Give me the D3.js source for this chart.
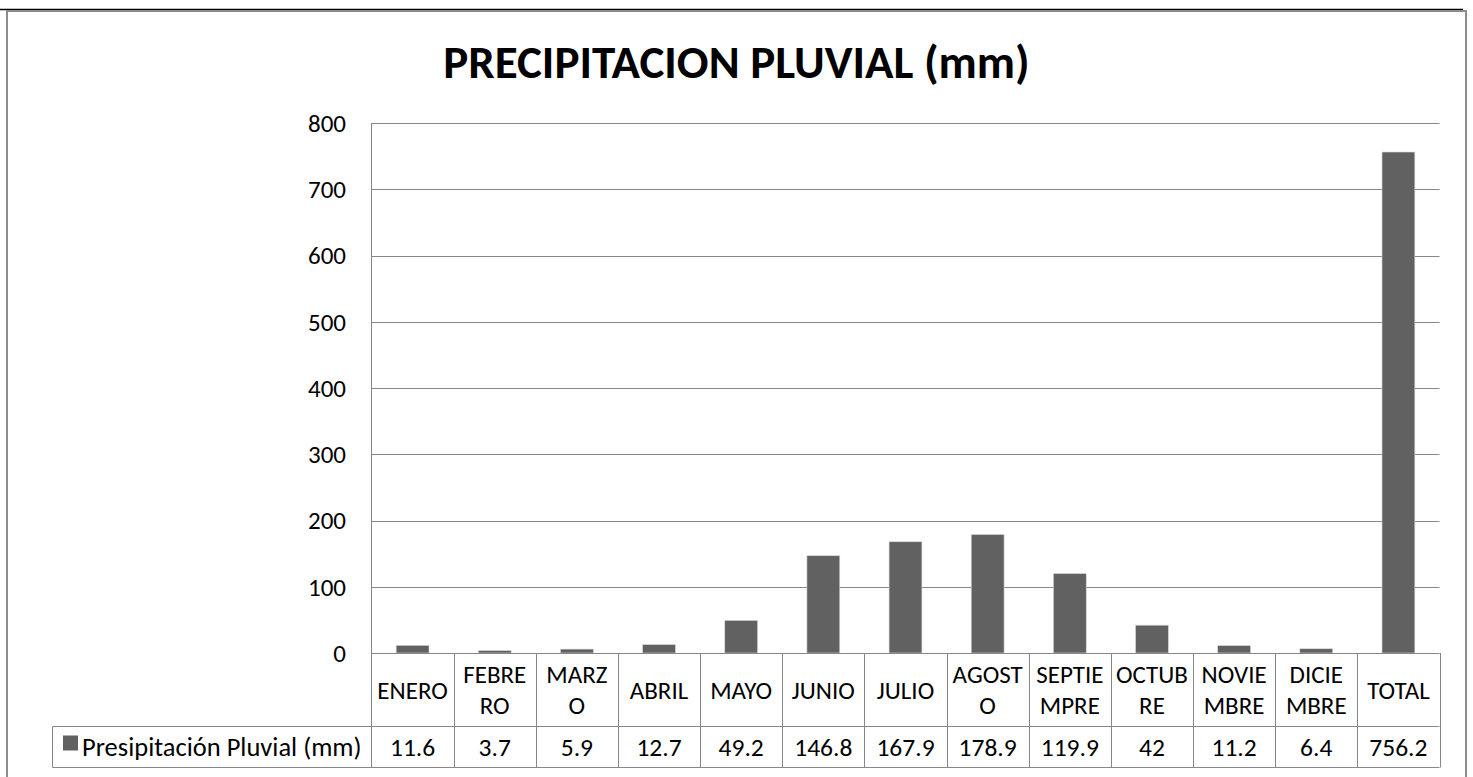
<!DOCTYPE html>
<html>
<head>
<meta charset="utf-8">
<script src="https://cdn.jsdelivr.net/npm/d3@7"></script>
<style>
  html, body { margin: 0; padding: 0; background: #fff; }
  svg { display: block; }
  text { font-family: Carlito, Calibri, Lato, sans-serif; fill: #000; }
</style>
</head>
<body>
<svg id="chart" width="1473" height="777"></svg>
<script>
// Monthly rainfall data
const categories = ["ENERO", "FEBRERO", "MARZO", "ABRIL", "MAYO", "JUNIO", "JULIO",
                    "AGOSTO", "SEPTIEMPRE", "OCTUBRE", "NOVIEMBRE", "DICIEMBRE", "TOTAL"];
const categoryLines = [["ENERO"], ["FEBRE", "RO"], ["MARZ", "O"], ["ABRIL"], ["MAYO"], ["JUNIO"],
                       ["JULIO"], ["AGOST", "O"], ["SEPTIE", "MPRE"], ["OCTUB", "RE"],
                       ["NOVIE", "MBRE"], ["DICIE", "MBRE"], ["TOTAL"]];
const values = [11.6, 3.7, 5.9, 12.7, 49.2, 146.8, 167.9, 178.9, 119.9, 42, 11.2, 6.4, 756.2];
const valueLabels = ["11.6", "3.7", "5.9", "12.7", "49.2", "146.8", "167.9", "178.9", "119.9", "42", "11.2", "6.4", "756.2"];
const yTicks = [0, 100, 200, 300, 400, 500, 600, 700, 800];
const seriesName = "Presipitación Pluvial (mm)";
const chartTitle = "PRECIPITACION PLUVIAL (mm)";

const svg = d3.select("#chart");
const barColor = "#616161";
const lineColor = "#878787";

const plotLeft = 371.5, plotRight = 1439.5, plotTop = 123, plotBottom = 653;
const catRowBottom = 726.5, valRowBottom = 767.5, legendLeft = 52.5;

const x = d3.scaleBand().domain(categories).range([plotLeft, plotRight]).padding(0);
const y = d3.scaleLinear().domain([0, 800]).range([plotBottom, plotTop]);

// top rule and chart frame
svg.append("line").attr("x1", 0).attr("x2", 1463).attr("y1", 9.5).attr("y2", 9.5)
  .attr("stroke", "#000").attr("stroke-width", 1.5);
svg.append("rect").attr("x", 7).attr("y", 11).attr("width", 1459).attr("height", 800)
  .attr("fill", "none").attr("stroke", "#8c8c8c").attr("stroke-width", 2);

// title
svg.append("text").attr("x", 736.5).attr("y", 77.5).attr("text-anchor", "middle")
  .attr("font-size", 47).attr("font-weight", "bold").text(chartTitle);

// horizontal gridlines
svg.append("g").selectAll("line").data(yTicks.filter(d => d > 0)).join("line")
  .attr("x1", plotLeft).attr("x2", plotRight)
  .attr("y1", d => Math.round(y(d)) + 0.5).attr("y2", d => Math.round(y(d)) + 0.5)
  .attr("stroke", lineColor).attr("stroke-width", 1);

// y tick labels
svg.append("g").selectAll("text").data(yTicks).join("text")
  .attr("x", 346).attr("y", d => y(d)).attr("dy", "0.35em")
  .attr("text-anchor", "end").attr("font-size", 25).text(d => d);

// bars
const bw = x.bandwidth();
svg.append("g").selectAll("rect").data(values).join("rect")
  .attr("x", (d, i) => x(categories[i]) + bw * 0.3)
  .attr("width", bw * 0.4)
  .attr("y", d => y(d))
  .attr("height", d => y(0) - y(d))
  .attr("fill", barColor)
  .attr("stroke", "#d9d9d9").attr("stroke-width", 0.6);

// data table grid
const grid = svg.append("g").attr("stroke", lineColor).attr("stroke-width", 1).attr("fill", "none");
grid.append("line").attr("x1", plotLeft).attr("x2", plotRight)
  .attr("y1", plotBottom + 0.5).attr("y2", plotBottom + 0.5);
grid.append("line").attr("x1", legendLeft).attr("x2", plotRight)
  .attr("y1", catRowBottom).attr("y2", catRowBottom);
grid.append("line").attr("x1", legendLeft).attr("x2", plotRight)
  .attr("y1", valRowBottom).attr("y2", valRowBottom);
grid.append("line").attr("x1", legendLeft).attr("x2", legendLeft)
  .attr("y1", catRowBottom).attr("y2", valRowBottom);
grid.append("line").attr("x1", plotLeft).attr("x2", plotLeft)
  .attr("y1", plotTop).attr("y2", valRowBottom);
grid.selectAll("line.col").data(categories).join("line").attr("class", "col")
  .attr("x1", d => Math.round(x(d) + bw) + 0.5).attr("x2", d => Math.round(x(d) + bw) + 0.5)
  .attr("y1", plotBottom).attr("y2", valRowBottom);

// category labels (wrapped)
const catRowMid = (plotBottom + catRowBottom) / 2;
const lineH = 31.7;
const catG = svg.append("g").selectAll("text").data(categories).join("text")
  .attr("text-anchor", "middle").attr("font-size", 25);
catG.each(function (d, i) {
  const lines = categoryLines[i];
  const t = d3.select(this);
  lines.forEach((ln, k) => {
    t.append("tspan").attr("x", x(d) + bw / 2)
      .attr("y", catRowMid + (k - (lines.length - 1) / 2) * lineH)
      .attr("dy", "0.35em").text(ln);
  });
});

// value row
const valRowMid = (catRowBottom + valRowBottom) / 2;
svg.append("g").selectAll("text").data(valueLabels).join("text")
  .attr("x", (d, i) => x(categories[i]) + bw / 2).attr("y", valRowMid).attr("dy", "0.35em")
  .attr("text-anchor", "middle").attr("font-size", 25.5).text(d => d);

// legend key inside the table
svg.append("rect").attr("x", 63).attr("y", 735.5).attr("width", 15).attr("height", 15).attr("fill", barColor);
svg.append("text").attr("x", 82).attr("y", valRowMid).attr("dy", "0.35em")
  .attr("font-size", 26.5).text(seriesName);
</script>
</body>
</html>
